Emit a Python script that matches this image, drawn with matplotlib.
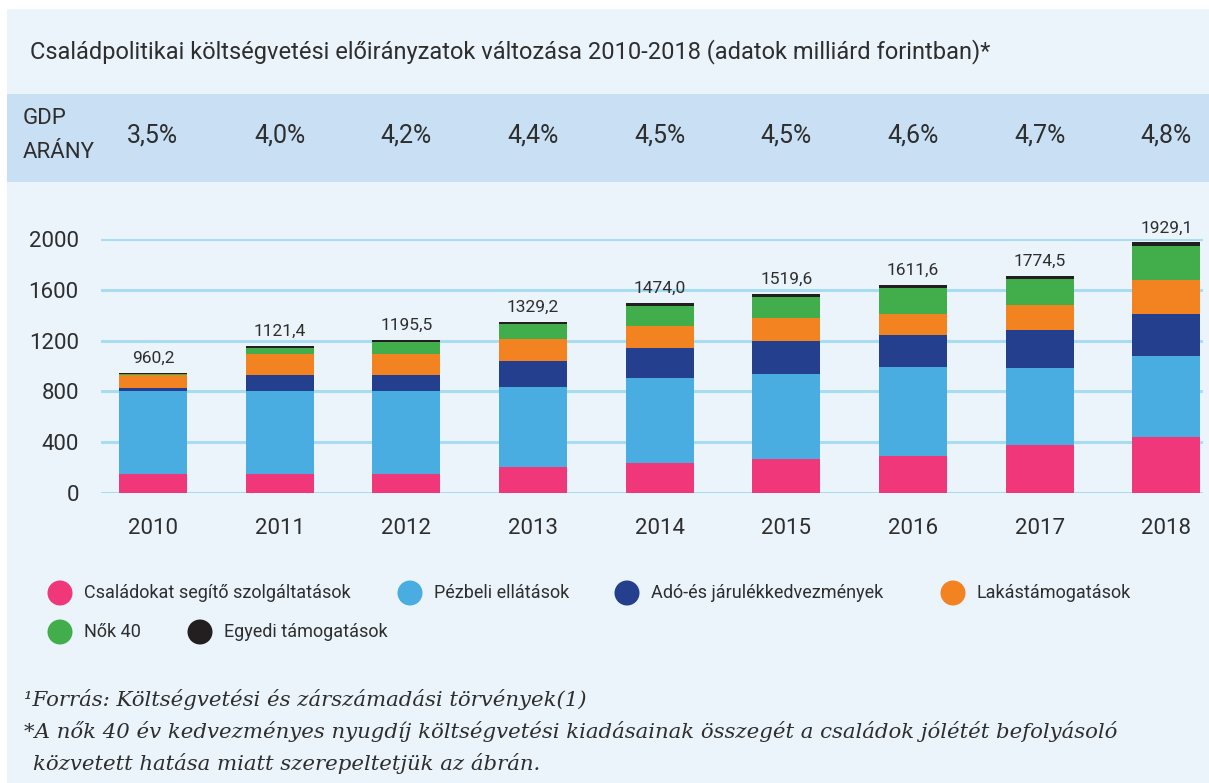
import numpy as np
import matplotlib.pyplot as plt
from matplotlib.patches import Rectangle, Circle

plt.rcParams['font.family'] = ['Roboto', 'DejaVu Sans']

# Data (milliard Ft)
years = ['2010', '2011', '2012', '2013', '2014', '2015', '2016', '2017', '2018']
gdp_share = ['3,5%', '4,0%', '4,2%', '4,4%', '4,5%', '4,5%', '4,6%', '4,7%', '4,8%']
total_labels = ['960,2', '1121,4', '1195,5', '1329,2', '1474,0', '1519,6', '1611,6', '1774,5', '1929,1']

csaladokat = [152, 152, 152, 207, 233, 265, 293, 380, 443]
penzbeli = [652, 652, 652, 629, 674, 673, 700, 605, 636]
ado = [24, 126, 126, 204, 235, 259, 252, 299, 331]
lakas = [102, 168, 168, 173, 173, 181, 165, 196, 267]
nok40 = [8, 44, 91, 118, 160, 168, 207, 205, 267]
egyedi = [8, 16, 16, 16, 21, 21, 21, 23, 29]

series = [csaladokat, penzbeli, ado, lakas, nok40, egyedi]
names = ['Családokat segítő szolgáltatások', 'Pézbeli ellátások', 'Adó-és járulékkedvezmények',
         'Lakástámogatások', 'Nők 40', 'Egyedi támogatások']
colors = ['#EF3779', '#49ADE2', '#243F8E', '#F38220', '#41AE4B', '#231F20']

W, H = 1209, 783
txt = '#2E2E2E'

fig = plt.figure(figsize=(W / 100, H / 100), dpi=100)
fig.patch.set_facecolor('white')

# overlay in pixel coordinates: background, header band, legend, notes
bg = fig.add_axes([0, 0, 1, 1], zorder=-1)
bg.set_xlim(0, W)
bg.set_ylim(H, 0)
bg.axis('off')
bg.add_patch(Rectangle((7, 9), W - 7, H - 9, color='#EBF4FB', lw=0))
bg.add_patch(Rectangle((7, 94), W - 7, 88, color='#C9E0F4', lw=0))

bg.text(30, 52, 'Családpolitikai költségvetési előirányzatok változása 2010-2018 (adatok milliárd forintban)*',
        fontsize=17, color=txt, va='center', ha='left')
bg.text(23, 119, 'GDP', fontsize=16, color=txt, va='center')
bg.text(23, 152, 'ARÁNY', fontsize=16, color=txt, va='center')

# stacked bars
ax = fig.add_axes([101 / W, (H - 493) / H, 1102 / W, 254 / H])
ax.set_facecolor('none')
x = np.arange(len(years))
bottom = np.zeros(len(years))
for vals, c in zip(series, colors):
    ax.bar(x, vals, bottom=bottom, width=0.537, color=c, zorder=3)
    bottom += np.array(vals)

for i, lab in enumerate(total_labels):
    ax.annotate(lab, (x[i], bottom[i]), xytext=(0, 5), textcoords='offset points',
                ha='center', va='bottom', fontsize=12.5, color=txt, annotation_clip=False)

ax.set_xlim(-0.41, 8.29)
ax.set_ylim(0, 2000)
ax.set_yticks(np.arange(0, 2001, 400))
ax.set_xticks(x)
ax.set_xticklabels(years)
ax.grid(axis='y', color='#A8DCF2', lw=2.2, zorder=0)
ax.tick_params(axis='both', length=0, labelsize=16, labelcolor=txt)
ax.tick_params(axis='y', pad=16)
ax.tick_params(axis='x', pad=18)
for s in ax.spines.values():
    s.set_visible(False)

# GDP row, centred over the bars
for i, g in enumerate(gdp_share):
    xp = ax.transData.transform((x[i], 0))[0]
    bg.text(xp, 136, g, fontsize=18, color=txt, ha='center', va='center')

# legend
leg_pos = [(60, 593), (410, 593), (627, 593), (953, 593), (60, 632), (200, 632)]
for (cx, cy), name, c in zip(leg_pos, names, colors):
    bg.add_patch(Circle((cx, cy), 12.5, color=c, lw=0))
    bg.text(cx + 24, cy, name, fontsize=13, color=txt, va='center', ha='left')

# notes
note_font = dict(family='DejaVu Serif', style='italic', fontsize=15.3, color=txt, va='center', ha='left')
bg.text(24, 700, '¹Forrás: Költségvetési és zárszámadási törvények(1)', **note_font)
bg.text(24, 732, '*A nők 40 év kedvezményes nyugdíj költségvetési kiadásainak összegét a családok jólétét befolyásoló',
        **note_font)
bg.text(33, 764, 'közvetett hatása miatt szerepeltetjük az ábrán.', **note_font)

fig.savefig('out.png', dpi=100, facecolor=fig.get_facecolor())
